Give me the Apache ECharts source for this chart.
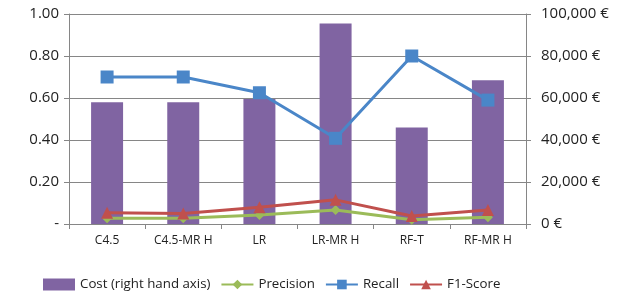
<!DOCTYPE html>
<html>
<head>
<meta charset="utf-8">
<script src="https://cdn.jsdelivr.net/npm/echarts@6/dist/echarts.min.js"></script>
<style>
  html, body { margin: 0; padding: 0; background: #fff; }
  #main { width: 629px; height: 298px; }
</style>
</head>
<body>
<div id="main"></div>
<script>
var categories = ["C4.5", "C4.5-MR H", "LR", "LR-MR H", "RF-T", "RF-MR H"];
var cost = [58000, 58000, 59500, 95500, 46000, 68500];
var precision = [0.027, 0.027, 0.043, 0.067, 0.02, 0.032];
var recall = [0.70, 0.70, 0.625, 0.408, 0.80, 0.59];
var f1 = [0.054, 0.05, 0.08, 0.115, 0.038, 0.067];
var leftTicks = ["-", "0.20", "0.40", "0.60", "0.80", "1.00"];

var fontFamily = "'Open Sans', sans-serif";
var chart = echarts.init(document.getElementById("main"));

var option = {
  animation: false,
  textStyle: { fontFamily: fontFamily },
  grid: { left: 69, right: 103, top: 14, bottom: 74 },
  legend: {
    bottom: 2,
    left: 38,
    itemGap: 10,
    itemWidth: 32,
    itemHeight: 12,
    textStyle: { fontSize: 13.3, color: "#222", fontFamily: fontFamily },
    data: [
      { name: "Cost (right hand axis)", icon: "rect" },
      "Precision",
      "Recall",
      "F1-Score"
    ]
  },
  xAxis: {
    type: "category",
    data: categories,
    boundaryGap: true,
    axisLine: { lineStyle: { color: "#868686" } },
    axisTick: { show: true, alignWithLabel: false, length: 5, lineStyle: { color: "#868686" } },
    axisLabel: { interval: 0, fontSize: 12, color: "#222", margin: 11 }
  },
  yAxis: [
    {
      type: "value",
      min: 0,
      max: 1,
      interval: 0.2,
      axisLine: { show: true, lineStyle: { color: "#868686" } },
      axisTick: { show: true, length: 5, lineStyle: { color: "#868686" } },
      splitLine: { lineStyle: { color: "#868686" } },
      axisLabel: {
        fontSize: 15,
        color: "#222",
        margin: 10,
        formatter: function (v) { return leftTicks[Math.round(v / 0.2)]; }
      }
    },
    {
      type: "value",
      min: 0,
      max: 100000,
      interval: 20000,
      position: "right",
      axisLine: { show: true, lineStyle: { color: "#868686" } },
      axisTick: { show: true, length: 5, lineStyle: { color: "#868686" } },
      splitLine: { show: false },
      axisLabel: {
        fontSize: 15,
        color: "#222",
        margin: 15,
        formatter: function (v) { return v.toLocaleString("en-US") + " €"; }
      }
    }
  ],
  series: [
    {
      name: "Cost (right hand axis)",
      type: "bar",
      yAxisIndex: 1,
      data: cost,
      barWidth: "42%",
      itemStyle: { color: "#8064A2" }
    },
    {
      name: "Precision",
      type: "line",
      data: precision,
      symbol: "diamond",
      symbolSize: 10,
      lineStyle: { color: "#9BBB59", width: 3 },
      itemStyle: { color: "#9BBB59" }
    },
    {
      name: "Recall",
      type: "line",
      data: recall,
      symbol: "rect",
      symbolSize: 13,
      lineStyle: { color: "#4A86C8", width: 3 },
      itemStyle: { color: "#4A86C8" }
    },
    {
      name: "F1-Score",
      type: "line",
      data: f1,
      symbol: "triangle",
      symbolSize: 12,
      lineStyle: { color: "#C0504D", width: 3 },
      itemStyle: { color: "#C0504D" }
    }
  ]
};
chart.setOption(option);
</script>
</body>
</html>
